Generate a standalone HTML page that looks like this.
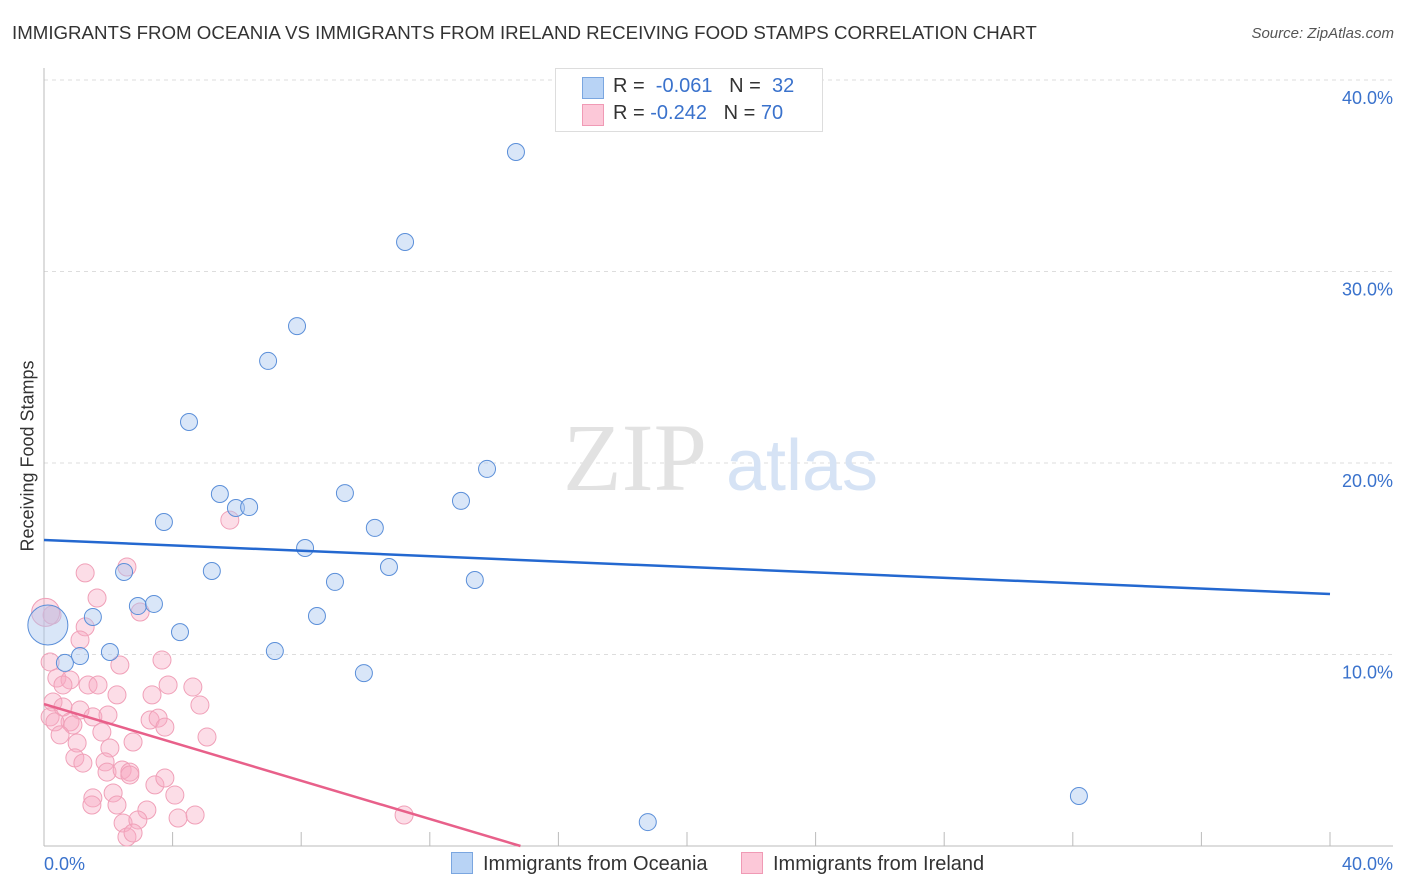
<!DOCTYPE html>
<html><head><meta charset="utf-8"><style>
body{margin:0;background:#fff;font-family:"Liberation Sans",sans-serif;}
#wrap{position:relative;width:1406px;height:892px;overflow:hidden;}
.t{position:absolute;white-space:nowrap;}
</style></head><body>
<div id="wrap">
<div class="t" style="left:12px;top:22px;font-size:18.7px;color:#333;">IMMIGRANTS FROM OCEANIA VS IMMIGRANTS FROM IRELAND RECEIVING FOOD STAMPS CORRELATION CHART</div>
<div class="t" style="right:12px;top:25px;font-size:15px;color:#555;font-style:italic;">Source: ZipAtlas.com</div>
<div class="t" style="left:28px;top:456px;font-size:18px;color:#333;transform:translate(-50%,-50%) rotate(-90deg);">Receiving Food Stamps</div>
<svg id="svg" width="1406" height="892" style="position:absolute;left:0;top:0"></svg>
<div style="position:absolute;left:555px;top:68px;width:266px;height:62px;border:1px solid #ddd;background:#fff;font-size:20px;">
 <div style="position:absolute;left:26px;top:8px;width:20px;height:20px;background:#b8d3f5;border:1px solid #7aa6e0;"></div>
 <div class="t" style="left:57px;top:6px;color:#333;">R = <span style="color:#3a72cc">&nbsp;-0.061</span>&nbsp;&nbsp;&nbsp;N = <span style="color:#3a72cc">&nbsp;32</span></div>
 <div style="position:absolute;left:26px;top:35px;width:20px;height:20px;background:#fcc8d8;border:1px solid #f09ab5;"></div>
 <div class="t" style="left:57px;top:33px;color:#333;">R = <span style="color:#3a72cc">-0.242</span>&nbsp;&nbsp;&nbsp;N = <span style="color:#3a72cc">70</span></div>
</div>
<div class="t" style="left:451px;top:852px;font-size:20px;color:#333;"><span style="display:inline-block;width:20px;height:20px;background:#b8d3f5;border:1px solid #7aa6e0;vertical-align:-4px;margin-right:10px;"></span>Immigrants from Oceania</div>
<div class="t" style="left:741px;top:852px;font-size:20px;color:#333;"><span style="display:inline-block;width:20px;height:20px;background:#fcc8d8;border:1px solid #f09ab5;vertical-align:-4px;margin-right:10px;"></span>Immigrants from Ireland</div>
</div>
<script>
const blueX=[14.68,11.23,7.87,6.97,4.51,5.47,5.97,6.38,9.36,13.78,12.97,3.73,10.29,8.12,5.22,2.49,10.73,9.05,13.40,2.92,3.42,1.52,8.49,4.23,2.05,1.12,0.65,7.18,9.95,32.19,18.78,0.12];
const blueY=[36.24,31.54,27.15,25.33,22.14,18.38,17.65,17.70,18.43,19.69,18.02,16.92,16.61,15.56,14.36,14.31,14.57,13.79,13.89,12.53,12.64,11.96,12.01,11.17,10.13,9.92,9.56,10.18,9.03,2.61,1.25,11.54];
const pinkX=[1.28,2.58,1.65,2.99,0.25,1.28,1.12,0.19,2.36,3.67,0.40,0.81,0.59,1.37,1.68,3.86,4.63,2.27,3.36,4.85,0.28,0.59,1.12,0.19,0.81,1.52,1.99,3.30,3.55,3.76,0.34,0.90,1.80,0.50,2.77,5.07,1.03,2.05,0.96,1.21,1.90,1.96,2.43,2.67,2.67,3.45,3.76,4.07,1.52,2.15,2.27,1.49,3.20,4.17,4.70,2.46,2.92,2.58,2.77,5.78,11.20,0.05];
const pinkY=[14.26,14.57,12.95,12.22,12.06,11.44,10.76,9.61,9.45,9.71,8.77,8.67,8.41,8.41,8.41,8.41,8.30,7.89,7.89,7.36,7.52,7.26,7.10,6.74,6.48,6.74,6.84,6.58,6.68,6.21,6.48,6.32,5.95,5.80,5.43,5.69,5.38,5.12,4.60,4.33,4.39,3.86,3.97,3.86,3.71,3.19,3.55,2.66,2.51,2.77,2.14,2.14,1.88,1.46,1.62,1.20,1.36,0.47,0.68,17.02,1.62,12.2];
const yTicks=[10,20,30,40];
const xTickLabels=["0.0%","40.0%"];
const blueLine=[15.98,13.16];
const pinkLine=[7.41,-0.5];
const sx=v=>44+v/40*1286, sy=v=>846-v*19.15;
const svg=document.getElementById('svg');const NS='http://www.w3.org/2000/svg';
function mk(t,a,p){const e=document.createElementNS(NS,t);for(const k in a)e.setAttribute(k,a[k]);(p||svg).appendChild(e);return e;}
yTicks.forEach(v=>{const l=mk('line',{x1:44,x2:1393,y1:sy(v),y2:sy(v),stroke:'#ddd','stroke-dasharray':'4,4'});


const t=mk('text',{x:1393,y:sy(v)+24,'text-anchor':'end','font-size':18,fill:'#3a72cc','font-family':'Liberation Sans'});t.textContent=v.toFixed(1)+'%';

});
let ax=mk('line',{x1:44,x2:44,y1:68,y2:846,stroke:'#bbb'});


ax=mk('line',{x1:44,x2:1393,y1:846,y2:846,stroke:'#bbb'});


for(let i=0;i<=10;i++){const tk=mk('line',{x1:sx(i*4),x2:sx(i*4),y1:832,y2:846,stroke:'#bbb'});

}
[[0,'start',44],[40,'end',1393]].forEach((d,i)=>{const t=mk('text',{x:d[2],y:870,'text-anchor':d[1],'font-size':18,fill:'#3a72cc','font-family':'Liberation Sans'});t.textContent=xTickLabels[i];

});
let w=mk('text',{x:635,y:490,'text-anchor':'middle','font-size':96,fill:'#e2e2e2','font-family':'Liberation Serif'});w.textContent='ZIP';


w=mk('text',{x:802,y:490,'text-anchor':'middle','font-size':72,fill:'#d6e3f5','font-family':'Liberation Sans'});w.textContent='atlas';


pinkX.forEach((x,i)=>{const r=i==pinkX.length-1?14:9;const c=mk('circle',{cx:sx(x),cy:sy(pinkY[i]),r:r,fill:'rgba(248,170,195,0.4)',stroke:'#f0a0b8','stroke-width':1});

});
blueX.forEach((x,i)=>{const r=i==blueX.length-1?20:8.5;const c=mk('circle',{cx:sx(x),cy:sy(blueY[i]),r:r,fill:'rgba(170,200,240,0.45)',stroke:'#5b8fd9','stroke-width':1});

});
let l=mk('line',{x1:sx(0),y1:sy(blueLine[0]),x2:sx(40),y2:sy(blueLine[1]),stroke:'#2468d0','stroke-width':2.5});


const xe=-pinkLine[0]/pinkLine[1];
l=mk('line',{x1:sx(0),y1:sy(pinkLine[0]),x2:sx(xe),y2:sy(0),stroke:'#e8608a','stroke-width':2.5});


</script>
</body></html>
